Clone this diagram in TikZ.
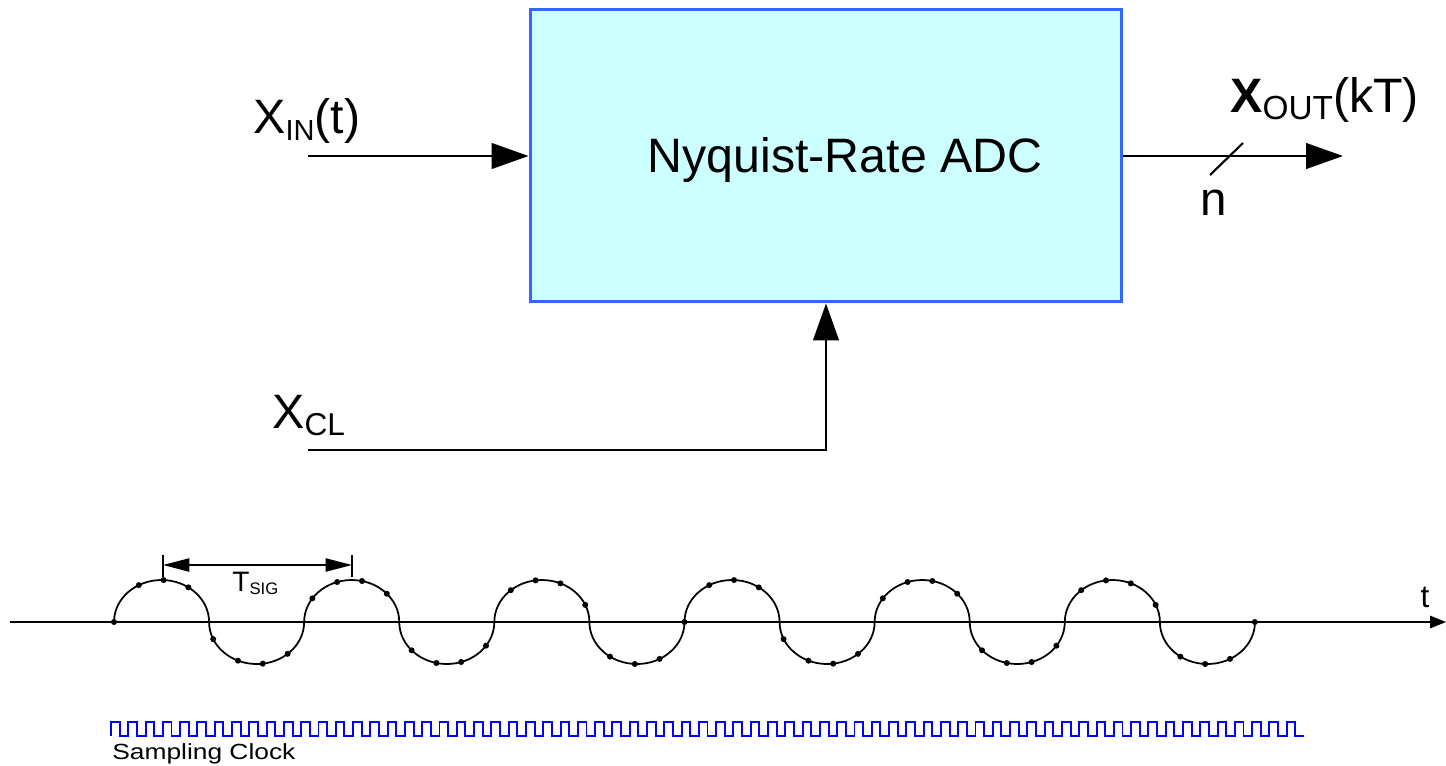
\documentclass[tikz,border=0pt]{standalone}
\usepackage{fontspec}
\setmainfont{Liberation Sans}
\usetikzlibrary{arrows.meta}
\definecolor{adcfill}{HTML}{CCFFFF}
\definecolor{adcline}{HTML}{3366FF}
\newcommand{\lowtxt}[2]{\raisebox{-4pt}{\fontsize{#1}{#1}\selectfont #2}}

\begin{document}
\begin{tikzpicture}[x=0.02cm, y=0.02cm,
  sig/.style={line width=1.5pt, -{Triangle[length=21pt,width=14.5pt]}},
  lbl/.style={inner sep=0pt, anchor=base west, font=\fontsize{27.5pt}{27.5pt}\selectfont},
  wave/.style={line width=1pt},
  smp/.style={fill=black},
  clk/.style={blue, line width=1.1pt}]
\useasboundingbox (0,0) rectangle (1446,-765);

% converter block
\node[draw=adcline, fill=adcfill, line width=1.7pt, minimum width=11.84cm, minimum height=5.85cm, inner sep=0pt] (adc) at (826,-155.7) {};
\node[anchor=base, font=\fontsize{27.5pt}{27.5pt}\selectfont] (title) at (845,-172) {Nyquist-Rate ADC};

% input signal
\coordinate (xin) at (308,-156);
\node[lbl] (inlbl) at (253,-133) {X\lowtxt{16.5pt}{IN}(t)};
\draw[sig] (xin) -- (xin -| adc.west);

% clock input
\coordinate (xcl) at (308,-450);
\node[lbl] (cllbl) at (272,-428) {X\lowtxt{18pt}{CL}};
\draw[sig] (xcl) -| (adc.south);

% output bus
\coordinate (xout) at (1343,-156);
\draw[sig] (xout -| adc.east) -- (xout);
\draw[line width=1.2pt] (1210,-175) -- (1243,-143);
\node[anchor=base, inner sep=0pt, font=\fontsize{27pt}{27pt}\selectfont] (nlbl) at (1214,-215) {n};
\node[lbl] (outlbl) at (1230,-112) {\textbf{X}\lowtxt{19pt}{OUT}(kT)};

% time axis
\coordinate (t0) at (10,-622);
\coordinate (t1) at (1446,-622);
\draw[line width=1pt, -{Triangle[length=9pt,width=7pt]}] (t0) -- (t1);
\node[anchor=base, inner sep=0pt, font=\fontsize{18pt}{18pt}\selectfont] (tlbl) at (1425,-607) {t};

% input sine
\draw[wave] (114,-622) foreach \k in {0,...,5} {
  arc[start angle=180, end angle=0, x radius=47.54, y radius=42]
  arc[start angle=180, end angle=360, x radius=47.54, y radius=42]};

% samples
\foreach \i in {0,...,46}{
  \pgfmathsetmacro\pp{\i*12/46}
  \pgfmathsetmacro\kk{floor(\pp)}
  \pgfmathsetmacro\uu{2*(\pp-\kk)-1}
  \pgfmathsetmacro\yy{-622+42*sqrt(max(0,1-\uu*\uu))*(1-2*mod(\kk,2))}
  \fill[smp] (114+\i*24.8,\yy) circle[radius=3];
}

% period marker
\draw[line width=1pt] (163,-555) -- (163,-577) (352,-555) -- (352,-577);
\coordinate (pa) at (163,-565);
\coordinate (pb) at (352,-565);
\draw[line width=1pt, {Triangle[length=15pt,width=7.5pt]}-{Triangle[length=15pt,width=7.5pt]}] (pa) -- (pb);
\node[anchor=base west, inner sep=0pt, font=\fontsize{16pt}{16pt}\selectfont] (tsig) at (232,-591) {T\raisebox{-2pt}{\fontsize{9.5pt}{9.5pt}\selectfont SIG}};

% sampling clock
\draw[clk] (111,-736) foreach \j in {1,...,69} { -- ++(0,14) -- ++(8.645,0) -- ++(0,-14) -- ++(8.645,0) };
\node[anchor=base west, inner sep=0pt, font=\fontsize{12.5pt}{12.5pt}\selectfont] (clklbl) at (112,-759) {\scalebox{1.2}[1]{Sampling Clock}};
\end{tikzpicture}
\end{document}
